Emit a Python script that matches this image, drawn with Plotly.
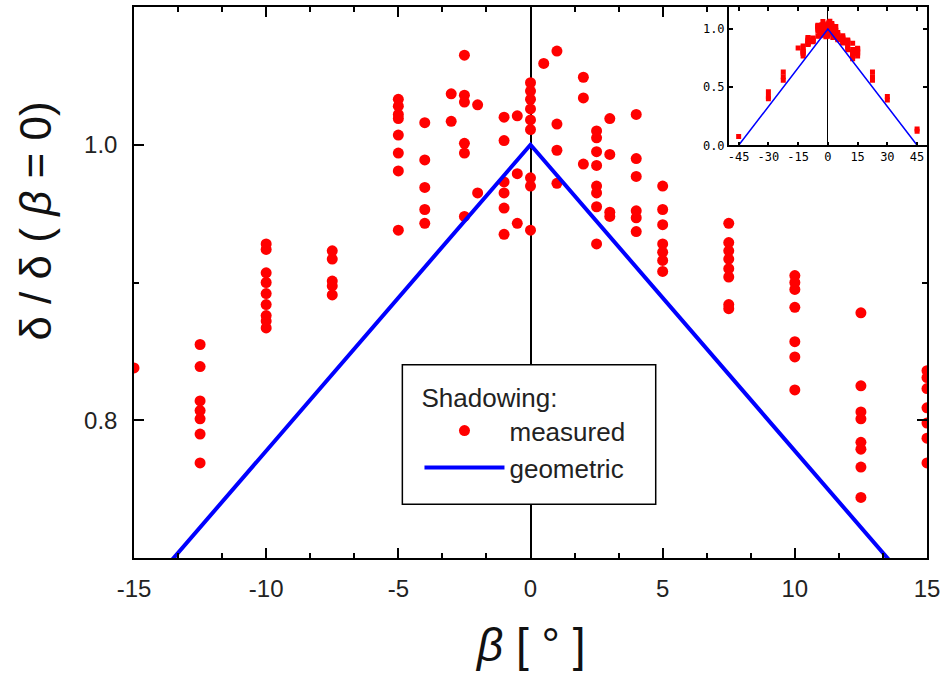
import plotly.graph_objects as go

# ---- data ----
measured_beta = (
    [-15]
    + [-12.5] * 7
    + [-10] * 9
    + [-7.5] * 5
    + [-5] * 8
    + [-4] * 5
    + [-3] * 2
    + [-2.5] * 6
    + [-2] * 2
    + [-1] * 6
    + [-0.5] * 3
    + [0] * 9
    + [0.5]
    + [1] * 4
    + [2] * 3
    + [2.5] * 8
    + [3] * 4
    + [4] * 6
    + [5] * 7
    + [7.5] * 8
    + [10] * 7
    + [12.5] * 8
    + [15] * 7
)
measured_ratio = [
    0.838,
    0.855, 0.839, 0.814, 0.807, 0.801, 0.790, 0.769,
    0.928, 0.924, 0.907, 0.900, 0.892, 0.884, 0.876, 0.872, 0.867,
    0.923, 0.917, 0.901, 0.8975, 0.891,
    1.033, 1.028, 1.022, 1.019, 1.007, 0.994, 0.981, 0.938,
    1.016, 0.989, 0.969, 0.953, 0.943,
    1.037, 1.017,
    1.065, 1.036, 1.031, 1.001, 0.994, 0.948,
    1.029, 0.965,
    1.020, 1.003, 0.973, 0.965, 0.954, 0.935,
    1.021, 0.979, 0.943,
    1.045, 1.039, 1.033, 1.026, 1.018, 1.011, 0.976, 0.970, 0.938,
    1.059,
    1.068, 1.015, 0.996, 0.972,
    1.049, 1.034, 0.986,
    1.010, 1.005, 0.995, 0.985, 0.970, 0.965, 0.955, 0.928,
    1.019, 0.993, 0.951, 0.948,
    1.022, 0.990, 0.977, 0.952, 0.947, 0.937,
    0.970, 0.953, 0.942, 0.928, 0.922, 0.916, 0.908,
    0.943, 0.929, 0.923, 0.917, 0.910, 0.904, 0.884, 0.881,
    0.905, 0.900, 0.895, 0.882, 0.857, 0.846, 0.822,
    0.878, 0.825, 0.806, 0.801, 0.784, 0.779, 0.766, 0.744,
    0.836, 0.831, 0.823, 0.809, 0.798, 0.787, 0.769,
]

# extra wide-angle measurements shown only in the inset
wide_beta = [-45, -30, -30, -30, -22.5, -22.5, -22.5, 22.5, 22.5, 22.5, 30, 30, 45, 45]
wide_ratio = [0.075, 0.46, 0.42, 0.40, 0.63, 0.59, 0.56, 0.63, 0.59, 0.56, 0.42, 0.39, 0.14, 0.12]

geometric_beta = [-45, 0, 45]
geometric_ratio = [0.0, 1.0, 0.0]

x_tick_vals = [-15, -10, -5, 0, 5, 10, 15]
x_tick_text = ["-15", "-10", "-5", "0", "5", "10", "15"]
y_tick_vals = [0.8, 1.0]
y_tick_text = ["0.8", "1.0"]

inset_x_vals = [-45, -30, -15, 0, 15, 30, 45]
inset_x_text = ["-45", "-30", "-15", "0", "15", "30", "45"]
inset_y_vals = [0.0, 0.5, 1.0]
inset_y_text = ["0.0", "0.5", "1.0"]

RED = "#ff0000"
BLUE = "#0000ff"
FONT = "Liberation Sans, Arial, sans-serif"

fig = go.Figure()

fig.add_trace(go.Scatter(
    x=measured_beta, y=measured_ratio, mode="markers", name="measured",
    marker=dict(symbol="circle", size=11, color=RED, line=dict(width=0)),
    xaxis="x", yaxis="y",
))
fig.add_trace(go.Scatter(
    x=geometric_beta, y=geometric_ratio, mode="lines", name="geometric",
    line=dict(color=BLUE, width=4), xaxis="x", yaxis="y",
))

# inset
fig.add_trace(go.Scatter(
    x=measured_beta + wide_beta, y=measured_ratio + wide_ratio, mode="markers",
    marker=dict(symbol="square", size=5, color=RED, line=dict(width=0)),
    xaxis="x2", yaxis="y2", showlegend=False, hoverinfo="skip",
))
fig.add_trace(go.Scatter(
    x=geometric_beta, y=geometric_ratio, mode="lines",
    line=dict(color=BLUE, width=1.5),
    xaxis="x2", yaxis="y2", showlegend=False, hoverinfo="skip",
))

axis_common = dict(
    showline=True, linecolor="black", linewidth=1.5, mirror="ticks",
    ticks="inside", tickcolor="black", tickwidth=1.5, showgrid=False,
)

fig.update_layout(
    width=945, height=675,
    margin=dict(l=134, r=16, t=5, b=117),
    paper_bgcolor="white", plot_bgcolor="white",
    font=dict(family=FONT, color="#222"),
    xaxis=dict(
        **axis_common, domain=[0, 1], range=[-15, 15],
        tickvals=x_tick_vals, ticktext=x_tick_text, ticklen=10,
        minor=dict(dtick=5 / 3, tick0=0, ticks="inside", ticklen=5,
                   tickcolor="black", tickwidth=1.5),
        zeroline=True, zerolinecolor="black", zerolinewidth=1.5,
        tickfont=dict(size=24, family=FONT, color="#222"),
        ticklabelstandoff=8,
    ),
    yaxis=dict(
        **axis_common, domain=[0, 1], range=[0.7, 1.1],
        tickvals=y_tick_vals, ticktext=y_tick_text, ticklen=10,
        minor=dict(dtick=0.1, tick0=0, ticks="inside", ticklen=5,
                   tickcolor="black", tickwidth=1.5),
        zeroline=False,
        tickfont=dict(size=24, family=FONT, color="#222"),
        ticklabelstandoff=10,
    ),
    xaxis2=dict(
        **axis_common, domain=[0.75, 1.0], anchor="y2", range=[-50, 50],
        tickvals=inset_x_vals, ticktext=inset_x_text, ticklen=4,
        zeroline=True, zerolinecolor="black", zerolinewidth=1.2,
        tickfont=dict(size=12, family="DejaVu Sans Mono, monospace", color="black"),
    ),
    yaxis2=dict(
        **axis_common, domain=[0.749, 1.0], anchor="x2", range=[0, 1.19],
        tickvals=inset_y_vals, ticktext=inset_y_text, ticklen=4,
        zeroline=False,
        tickfont=dict(size=12, family="DejaVu Sans Mono, monospace", color="black"),
    ),
    legend=dict(
        x=0.36, y=0.335, xanchor="left", yanchor="top",
        bgcolor="rgba(0,0,0,0)", borderwidth=0,
        font=dict(size=26, family=FONT, color="#222"),
        title=dict(text="Shadowing:", font=dict(size=26, family=FONT, color="#222")),
        itemwidth=80,
    ),
    shapes=[
        # legend frame
        dict(type="rect", xref="paper", yref="paper",
             x0=0.3384, x1=0.6579, y0=0.0976, y1=0.3508,
             line=dict(color="black", width=1.5), fillcolor="white", layer="above"),
    ],
    annotations=[
        dict(text="δ / δ ( <i>β</i> = 0)", textangle=-90, xref="paper", yref="paper",
             x=-0.1245, y=0.611, xanchor="center", yanchor="middle", showarrow=False,
             font=dict(size=44, family=FONT, color="#111")),
        dict(text="<i>β</i> [ ° ]", xref="paper", yref="paper",
             x=0.5, y=-0.157, xanchor="center", yanchor="middle", showarrow=False,
             font=dict(size=46, family=FONT, color="#111")),
    ],
)

fig.write_html("out.html", config={"displayModeBar": False},
               post_script="document.body.style.margin='0px';")
